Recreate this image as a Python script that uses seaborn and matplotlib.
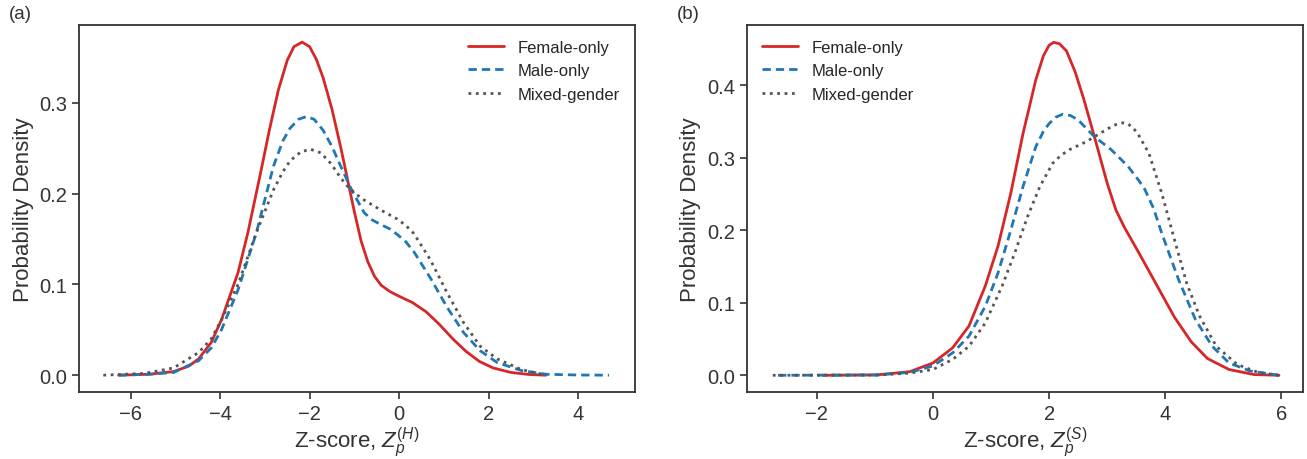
import numpy as np
import pandas as pd
import seaborn as sns
import matplotlib
matplotlib.use('Agg')
from matplotlib import pyplot as plt

# %% Values (density curves)
# panel (a): Z-score H
a_female_x = [-6.27, -5.6, -5.04, -4.7, -4.48, -4.2, -3.97, -3.6, -3.38, -3.1, -2.9, -2.7,
              -2.5, -2.35, -2.17, -2.0, -1.85, -1.7, -1.5, -1.3, -1.15, -1.0, -0.85, -0.7,
              -0.55, -0.4, -0.2, 0.0, 0.3, 0.6, 0.9, 1.2, 1.5, 1.8, 2.1, 2.5, 2.9, 3.28]
a_female_y = [0.0, 0.001, 0.004, 0.01, 0.018, 0.036, 0.061, 0.113, 0.157, 0.222, 0.27, 0.314,
              0.347, 0.362, 0.367, 0.362, 0.348, 0.328, 0.293, 0.25, 0.215, 0.18, 0.148, 0.125,
              0.109, 0.099, 0.092, 0.087, 0.08, 0.07, 0.056, 0.04, 0.026, 0.015, 0.008, 0.003,
              0.0008, 0.0]

a_male_x = [-6.27, -5.6, -5.04, -4.48, -4.2, -3.97, -3.6, -3.19, -2.81, -2.6, -2.44, -2.25,
            -2.07, -1.9, -1.7, -1.5, -1.33, -1.06, -0.78, -0.6, -0.41, -0.2, -0.04, 0.15,
            0.33, 0.7, 1.07, 1.44, 1.81, 2.19, 2.74, 3.3, 4.0, 4.69]
a_male_y = [0.0, 0.001, 0.003, 0.016, 0.03, 0.05, 0.094, 0.157, 0.23, 0.258, 0.272, 0.282,
            0.285, 0.282, 0.27, 0.252, 0.233, 0.204, 0.179, 0.171, 0.166, 0.161, 0.155, 0.147,
            0.136, 0.107, 0.075, 0.047, 0.027, 0.014, 0.005, 0.001, 0.0002, 0.0]

a_mixed_x = [-6.61, -5.69, -5.04, -4.48, -4.2, -3.97, -3.6, -3.19, -2.81, -2.6, -2.44, -2.2,
             -1.98, -1.75, -1.52, -1.3, -1.15, -0.95, -0.78, -0.41, -0.04, 0.15, 0.33, 0.7,
             1.07, 1.44, 1.81, 2.19, 2.74, 3.2]
a_mixed_y = [0.0, 0.002, 0.008, 0.025, 0.04, 0.061, 0.1, 0.157, 0.204, 0.224, 0.236, 0.246,
             0.249, 0.245, 0.233, 0.217, 0.208, 0.199, 0.193, 0.182, 0.172, 0.165, 0.156,
             0.127, 0.091, 0.058, 0.032, 0.018, 0.006, 0.001]

# panel (b): Z-score S
b_female_x = [-1.9, -0.97, -0.4, 0.0, 0.34, 0.62, 0.9, 1.12, 1.34, 1.55, 1.77, 1.9, 2.0,
              2.08, 2.18, 2.3, 2.45, 2.6, 2.78, 3.0, 3.15, 3.29, 3.58, 3.87, 4.16, 4.45,
              4.73, 5.1, 5.53, 5.96]
b_female_y = [0.0, 0.0005, 0.005, 0.017, 0.038, 0.068, 0.123, 0.178, 0.251, 0.333, 0.407,
              0.44, 0.455, 0.459, 0.457, 0.447, 0.418, 0.38, 0.329, 0.265, 0.228, 0.205,
              0.164, 0.122, 0.08, 0.046, 0.023, 0.008, 0.001, 0.0]

b_male_x = [-2.67, -0.97, -0.4, 0.0, 0.34, 0.62, 0.9, 1.12, 1.34, 1.55, 1.77, 1.9, 2.0,
            2.12, 2.24, 2.37, 2.5, 2.78, 3.07, 3.36, 3.55, 3.65, 3.8, 3.94, 4.23, 4.52,
            4.81, 5.1, 5.46, 5.96]
b_male_y = [0.0, 0.0005, 0.004, 0.013, 0.031, 0.054, 0.095, 0.141, 0.2, 0.26, 0.315, 0.336,
            0.347, 0.356, 0.36, 0.358, 0.352, 0.329, 0.311, 0.288, 0.268, 0.256, 0.23, 0.196,
            0.132, 0.077, 0.04, 0.017, 0.006, 0.0]

b_mixed_x = [-2.76, -0.97, -0.4, 0.0, 0.34, 0.62, 0.9, 1.19, 1.41, 1.63, 1.84, 2.06, 2.2,
             2.35, 2.64, 2.93, 3.1, 3.2, 3.27, 3.35, 3.45, 3.55, 3.72, 3.94, 4.16, 4.37,
             4.59, 4.88, 5.24, 5.6, 5.96]
b_mixed_y = [0.0, 0.0003, 0.003, 0.008, 0.022, 0.04, 0.072, 0.123, 0.169, 0.219, 0.26, 0.292,
             0.303, 0.311, 0.322, 0.336, 0.344, 0.347, 0.348, 0.347, 0.341, 0.33, 0.306,
             0.251, 0.187, 0.127, 0.082, 0.04, 0.015, 0.004, 0.0]

labels = ['Female-only', 'Male-only', 'Mixed-gender']
colors = ['#d62728', '#1f77b4', '#555555']
styles = ['-', (0, (3, 1.8)), (0, (1, 1.65))]

# %% Style
sns.set_theme(style='ticks')
plt.rcParams['font.family'] = ['Liberation Sans', 'DejaVu Sans']
plt.rcParams['mathtext.fontset'] = 'custom'
plt.rcParams['mathtext.rm'] = 'Liberation Sans'
plt.rcParams['mathtext.it'] = 'Liberation Sans:italic'
plt.rcParams['axes.edgecolor'] = '#333333'
plt.rcParams['xtick.color'] = '#333333'
plt.rcParams['ytick.color'] = '#333333'

fig = plt.figure(figsize=(13.07, 4.6), dpi=100)
ax1 = fig.add_axes([0.0604, 0.1457, 0.4254, 0.798])
ax2 = fig.add_axes([0.5713, 0.1457, 0.4259, 0.798])

panel_a = [(a_female_x, a_female_y), (a_male_x, a_male_y), (a_mixed_x, a_mixed_y)]
panel_b = [(b_female_x, b_female_y), (b_male_x, b_male_y), (b_mixed_x, b_mixed_y)]

for ax, data in [(ax1, panel_a), (ax2, panel_b)]:
    for (xs, ys), lab, c, ls in zip(data, labels, colors, styles):
        sns.lineplot(x=xs, y=ys, ax=ax, color=c, linestyle=ls, linewidth=2, label=lab)
    for s in ax.spines.values():
        s.set_linewidth(1.3)
    ax.tick_params(labelsize=14.5, width=1.2, length=5, colors='#333333')
    ax.set_ylabel('Probability Density', fontsize=16, color='#333333')

ax1.set_xlim(-7.155, 5.27)
ax1.set_ylim(-0.0185, 0.386)
ax1.set_xticks([-6, -4, -2, 0, 2, 4])
ax1.set_yticks([0.0, 0.1, 0.2, 0.3])
ax1.set_xlabel('Z-score, $Z_p^{(H)}$', fontsize=16, color='#333333', labelpad=1)
ax1.legend(loc='upper right', bbox_to_anchor=(1.0, 1.0), frameon=False, fontsize=12,
           handlelength=2.2, labelspacing=0.5)

ax2.set_xlim(-3.21, 6.38)
ax2.set_ylim(-0.023, 0.483)
ax2.set_xticks([-2, 0, 2, 4, 6])
ax2.set_yticks([0.0, 0.1, 0.2, 0.3, 0.4])
ax2.set_xlabel('Z-score, $Z_p^{(S)}$', fontsize=16, color='#333333', labelpad=1)
ax2.legend(loc='upper left', frameon=False, fontsize=12, handlelength=2.2, labelspacing=0.5)

for a in [ax1, ax2]:
    a.set_yticklabels(['%.1f' % t for t in a.get_yticks()])
    a.set_xticklabels(['\u2212%d' % -t if t < 0 else '%d' % t for t in a.get_xticks()])

fig.text(0.007, 0.987, '(a)', fontsize=13.5, color='#333333', va='top')
fig.text(0.518, 0.987, '(b)', fontsize=13.5, color='#333333', va='top')

plt.savefig('out.png', dpi=100)
